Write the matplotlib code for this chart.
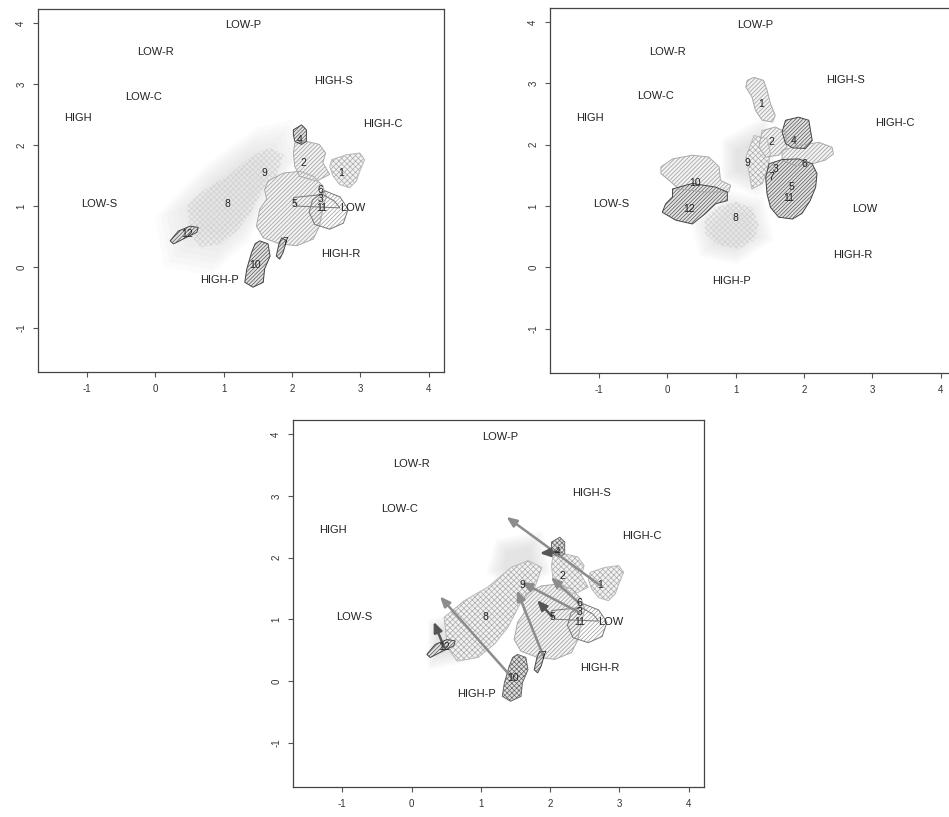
import numpy as np
import matplotlib
matplotlib.use("Agg")
import matplotlib.pyplot as plt

plt.rcParams['font.family'] = ['Liberation Sans', 'DejaVu Sans']
plt.rcParams['hatch.linewidth'] = 0.5
plt.rcParams['axes.unicode_minus'] = False

# category points (same in all three maps)
cat_labels = ['LOW-P', 'LOW-R', 'HIGH-S', 'LOW-C', 'HIGH', 'HIGH-C',
              'LOW-S', 'LOW', 'HIGH-R', 'HIGH-P']
cat_x = [1.28, 0.00, 2.60, -0.17, -1.13, 3.33, -0.82, 2.88, 2.71, 0.94]
cat_y = [3.96, 3.52, 3.05, 2.79, 2.44, 2.35, 1.03, 0.96, 0.21, -0.22]

# cluster centres, first map and second map
clusters = ['1', '2', '3', '4', '5', '6', '7', '8', '9', '10', '11', '12']
p1_x = [2.72, 2.17, 2.42, 2.11, 2.03, 2.42, 1.90, 1.06, 1.60, 1.46, 2.43, 0.47]
p1_y = [1.55, 1.70, 1.11, 2.09, 1.04, 1.26, 0.41, 1.04, 1.55, 0.04, 0.96, 0.55]
p2_x = [1.37, 1.52, 1.59, 1.85, 1.81, 2.01, 1.52, 1.00, 1.17, 0.41, 1.78, 0.32]
p2_y = [2.66, 2.04, 1.60, 2.07, 1.31, 1.68, 1.47, 0.80, 1.70, 1.37, 1.14, 0.96]

# clusters that get a shift arrow in the third map
arrow_ids = ['1', '4', '6', '3', '5', '7', '10', '12']
arrow_dark = ['4', '5', '12']

# outlines of the cluster regions
shapes1 = {
    '8': [(0.47, 1.03), (0.76, 1.30), (1.10, 1.52), (1.44, 1.84), (1.68, 1.95), (1.88, 1.84),
          (1.78, 1.52), (1.59, 1.30), (1.39, 0.87), (1.20, 0.60), (0.96, 0.38), (0.66, 0.32), (0.52, 0.54)],
    '5': [(1.65, 1.41), (1.87, 1.54), (2.11, 1.57), (2.31, 1.49), (2.45, 1.33), (2.50, 1.16), (2.45, 0.95),
          (2.40, 0.67), (2.31, 0.46), (2.07, 0.35), (1.82, 0.38), (1.58, 0.48), (1.48, 0.67), (1.53, 0.95),
          (1.63, 1.11), (1.60, 1.27)],
    '11': [(2.30, 1.10), (2.48, 1.25), (2.70, 1.15), (2.82, 0.95), (2.75, 0.72), (2.55, 0.62),
           (2.33, 0.70), (2.25, 0.90)],
    '6': [(2.02, 1.14), (2.45, 1.19), (2.62, 1.08), (2.70, 0.97), (2.07, 1.00)],
    '2': [(2.04, 2.03), (2.21, 2.06), (2.40, 2.01), (2.49, 1.87), (2.45, 1.71), (2.55, 1.52), (2.36, 1.41),
          (2.11, 1.49), (2.04, 1.65), (2.02, 1.87)],
    '1': [(2.58, 1.76), (2.79, 1.84), (2.99, 1.87), (3.06, 1.76), (2.99, 1.57), (2.94, 1.41), (2.84, 1.30),
          (2.70, 1.35), (2.60, 1.49), (2.55, 1.65)],
    '4': [(2.02, 2.25), (2.14, 2.33), (2.21, 2.25), (2.21, 2.06), (2.14, 2.01), (2.04, 2.06), (2.02, 2.17)],
    '12': [(0.22, 0.43), (0.34, 0.59), (0.51, 0.67), (0.63, 0.65), (0.61, 0.57), (0.41, 0.46), (0.27, 0.38)],
    '10': [(1.53, 0.43), (1.65, 0.38), (1.68, 0.18), (1.60, -0.03), (1.58, -0.25), (1.43, -0.33),
           (1.31, -0.25), (1.34, -0.03), (1.41, 0.24), (1.46, 0.38)],
    '7': [(1.85, 0.48), (1.92, 0.43), (1.87, 0.24), (1.82, 0.13), (1.77, 0.18), (1.81, 0.38)],
}
shapes2 = {
    '8': [(0.71, 0.98), (1.00, 1.07), (1.24, 0.98), (1.34, 0.71), (1.27, 0.44), (1.05, 0.30),
          (0.76, 0.36), (0.56, 0.55), (0.54, 0.79)],
    '9': [(1.27, 2.15), (1.46, 2.10), (1.51, 1.85), (1.46, 1.58), (1.39, 1.37), (1.24, 1.28),
          (1.20, 1.53), (1.15, 1.80)],
    '10': [(-0.09, 1.64), (0.08, 1.77), (0.37, 1.83), (0.61, 1.80), (0.76, 1.64), (0.78, 1.42),
           (0.93, 1.34), (0.90, 1.23), (0.56, 1.23), (0.17, 1.28), (0.03, 1.42), (-0.09, 1.53)],
    '12': [(0.08, 1.28), (0.37, 1.37), (0.71, 1.31), (0.88, 1.23), (0.88, 1.09), (0.71, 1.04),
           (0.56, 0.88), (0.37, 0.71), (0.13, 0.77), (-0.07, 0.90), (-0.02, 1.04), (0.08, 1.15)],
    '1': [(1.17, 3.05), (1.27, 3.10), (1.41, 3.05), (1.46, 2.89), (1.51, 2.67), (1.58, 2.48),
          (1.54, 2.37), (1.39, 2.40), (1.29, 2.56), (1.24, 2.78), (1.15, 2.94)],
    '2': [(1.39, 2.23), (1.58, 2.29), (1.73, 2.21), (1.75, 1.96), (1.63, 1.83), (1.44, 1.80), (1.34, 1.96)],
    '6': [(1.68, 1.91), (1.92, 1.99), (2.22, 2.04), (2.41, 1.96), (2.43, 1.85), (2.31, 1.75),
          (2.12, 1.69), (1.88, 1.66), (1.68, 1.75)],
    '4': [(1.73, 2.40), (1.92, 2.45), (2.07, 2.40), (2.12, 2.07), (2.02, 1.94), (1.83, 1.95),
          (1.73, 2.02), (1.68, 2.21)],
    '5': [(1.49, 1.69), (1.68, 1.76), (1.92, 1.77), (2.12, 1.69), (2.19, 1.53), (2.17, 1.31),
          (2.09, 1.09), (1.97, 0.88), (1.83, 0.79), (1.63, 0.82), (1.51, 0.98), (1.46, 1.20), (1.44, 1.47)],
}

# soft grey shading behind the regions
clouds1 = [[(0.3, 0.9), (0.8, 1.5), (1.4, 2.0), (1.8, 2.1), (1.9, 1.7), (1.6, 1.2), (1.3, 0.6),
            (0.9, 0.2), (0.4, 0.3)]]
clouds2 = [[(0.9, 2.0), (1.4, 2.3), (1.5, 1.6), (1.3, 1.3), (0.9, 1.5)],
           [(0.5, 0.7), (0.9, 1.1), (1.3, 1.0), (1.4, 0.5), (1.0, 0.2), (0.6, 0.3)]]
clouds3 = [[(1.3, 2.2), (1.8, 2.3), (1.9, 1.8), (1.5, 1.5), (1.2, 1.8)],
           [(0.3, 0.9), (0.6, 1.0), (0.75, 0.4), (0.3, 0.3)]]

LIGHT = dict(face='#f2f2f2', hcol='#9a9a9a', edge='#aaaaaa', hatch='/' * 8)
DARK = dict(face='#e2e2e2', hcol='#555555', edge='#444444', hatch='/' * 9)
CROSS = dict(face='#f2f2f2', hcol='#aaaaaa', edge='#b8b8b8', hatch='x' * 6)
CROSS_D = dict(face='#e0e0e0', hcol='#666666', edge='#666666', hatch='x' * 7)
FAINT = dict(face='none', hcol='#d0d0d0', edge='none', hatch='x' * 6)
HATCH_ONLY = dict(face='none', hcol='#9a9a9a', edge='#777777', hatch='/' * 8)
OUTLINE = dict(face='none', hcol='none', edge='#777777', hatch=None)

style1 = {'8': FAINT, '5': LIGHT, '11': HATCH_ONLY, '6': OUTLINE, '2': LIGHT, '1': CROSS,
          '4': DARK, '12': DARK, '10': DARK, '7': DARK}
style2 = {'8': FAINT, '9': CROSS, '10': LIGHT, '12': DARK, '1': LIGHT, '2': LIGHT,
          '6': LIGHT, '4': DARK, '5': DARK}
style3 = {'8': CROSS, '5': LIGHT, '11': HATCH_ONLY, '6': OUTLINE, '2': CROSS, '1': CROSS,
          '4': CROSS_D, '12': DARK, '10': CROSS_D, '7': DARK}


def draw_blob(ax, pts, st):
    xs = [p[0] for p in pts]
    ys = [p[1] for p in pts]
    if st['hatch']:
        ax.fill(xs, ys, facecolor=st['face'], edgecolor=st['hcol'], hatch=st['hatch'],
                linewidth=0, zorder=2)
    if st['edge'] != 'none':
        ax.fill(xs, ys, facecolor='none', edgecolor=st['edge'], linewidth=0.7, zorder=3)


def draw_cloud(ax, pts):
    pts = np.array(pts)
    c = pts.mean(axis=0)
    for s in [1.35, 1.25, 1.15, 1.05, 0.95, 0.85, 0.75, 0.65]:
        q = c + (pts - c) * s
        ax.fill(q[:, 0], q[:, 1], facecolor='#a0a0a0', alpha=0.035, linewidth=0, zorder=1)


def base(ax):
    ax.set_xlim(-1.71, 4.22)
    ax.set_ylim(-1.72, 4.23)
    ax.set_xticks([-1, 0, 1, 2, 3, 4])
    ax.set_yticks([-1, 0, 1, 2, 3, 4])
    ax.tick_params(labelsize=7, length=3.5, width=0.8, color='#555555', labelcolor='#333333', pad=5)
    plt.setp(ax.get_yticklabels(), rotation=90, va='center')
    for sp in ax.spines.values():
        sp.set_color('#444444')
        sp.set_linewidth(0.9)
    for lab, x, y in zip(cat_labels, cat_x, cat_y):
        ax.text(x, y, lab, fontsize=8, ha='center', va='center', color='#222222', zorder=6)


fig = plt.figure(figsize=(9.49, 8.17), dpi=100)
ax1 = fig.add_axes([38 / 949, 1 - 372 / 817, 406 / 949, 363 / 817])
ax2 = fig.add_axes([550 / 949, 1 - 373 / 817, 406 / 949, 365 / 817])
ax3 = fig.add_axes([293 / 949, 1 - 787 / 817, 411 / 949, 367 / 817])

for ax, shapes, style, clouds in [(ax1, shapes1, style1, clouds1),
                                  (ax2, shapes2, style2, clouds2),
                                  (ax3, shapes1, style3, clouds3)]:
    base(ax)
    for cl in clouds:
        draw_cloud(ax, cl)
    for k, pts in shapes.items():
        draw_blob(ax, pts, style[k])

# cluster numbers
for k, x, y in zip(clusters, p1_x, p1_y):
    ax1.text(x, y, k, fontsize=7.5, ha='center', va='center', color='#222222', zorder=6)
    ax3.text(x, y, k, fontsize=7.5, ha='center', va='center', color='#222222', zorder=6)
for k, x, y in zip(clusters, p2_x, p2_y):
    ax2.text(x, y, k, fontsize=7.5, ha='center', va='center', color='#222222', zorder=6)

# arrows from first-map position to second-map position
for k in arrow_ids:
    i = clusters.index(k)
    col = '#555555' if k in arrow_dark else '#8c8c8c'
    ax3.annotate('', xy=(p2_x[i], p2_y[i]), xytext=(p1_x[i], p1_y[i]),
                 arrowprops=dict(arrowstyle='-|>,head_length=0.6,head_width=0.25',
                                 color=col, lw=1.8, shrinkA=0, shrinkB=0), zorder=5)

fig.savefig('out.png', dpi=100)
